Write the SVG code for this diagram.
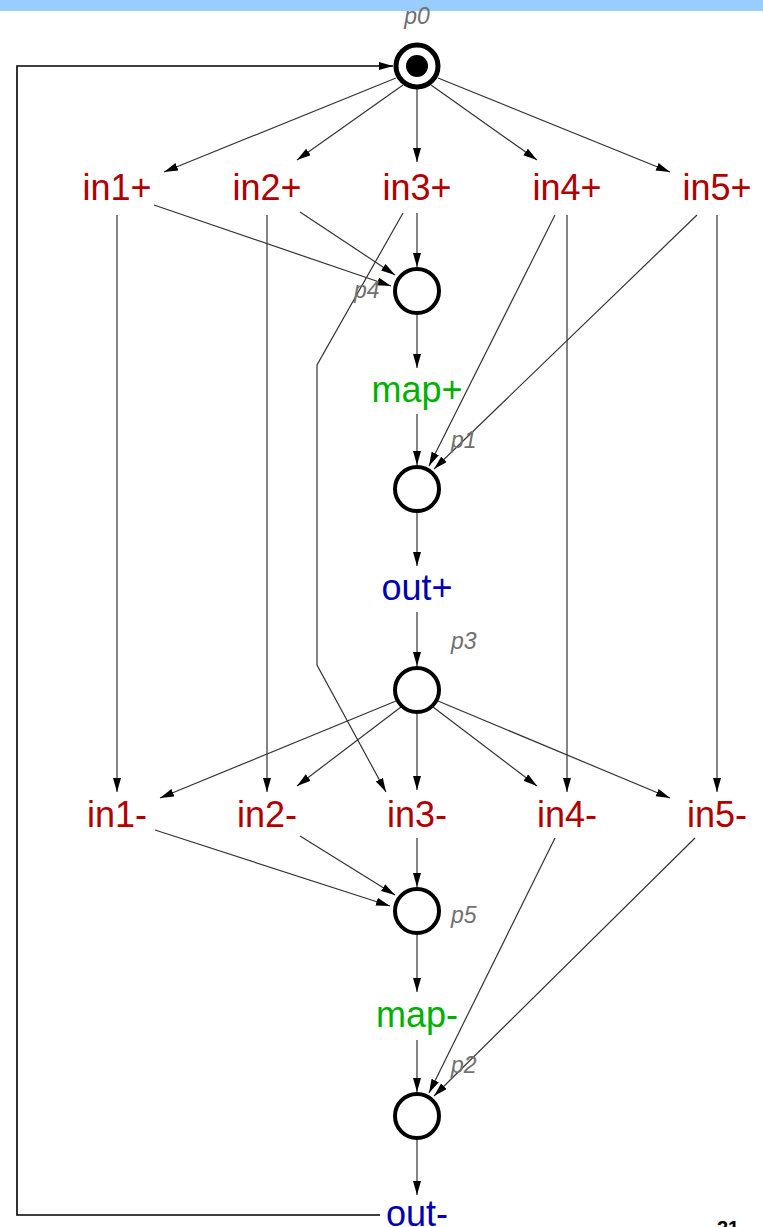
<svg xmlns="http://www.w3.org/2000/svg" width="763" height="1227" viewBox="0 0 763 1227">
<style>
.pl{fill:#fff;stroke:#000;stroke-width:4}
.arc{fill:none;stroke:#333;stroke-width:1.2}
.lbl{font-family:"Liberation Sans",Arial,sans-serif;font-size:23px;font-style:italic;fill:#707070}
.tr{font-family:"Liberation Sans",Arial,sans-serif;font-size:36px;text-anchor:middle}
.in{fill:#B00000}
.map{fill:#00B000}
.out{fill:#0000B0}
</style>
<defs>
<marker id="ah" markerUnits="userSpaceOnUse" markerWidth="15" markerHeight="9" refX="14" refY="4" orient="auto">
<path d="M0,0 L14,4 L0,8 z" fill="#000"/>
</marker>
</defs>
<rect x="0" y="0" width="763" height="11" fill="#99CCFF"/>
<g id="connectors">
<polyline class="arc" points="380,1215 17,1215 17,66 393,66" style="stroke:#000;stroke-width:1.6" marker-end="url(#ah)"/>
<line class="arc" x1="396" y1="78" x2="164" y2="172" marker-end="url(#ah)"/>
<line class="arc" x1="403" y1="85" x2="297" y2="160" marker-end="url(#ah)"/>
<line class="arc" x1="417" y1="89" x2="417" y2="162" marker-end="url(#ah)"/>
<line class="arc" x1="431" y1="85" x2="537" y2="160" marker-end="url(#ah)"/>
<line class="arc" x1="438" y1="78" x2="670" y2="172" marker-end="url(#ah)"/>
<line class="arc" x1="154" y1="205" x2="391" y2="286" marker-end="url(#ah)"/>
<line class="arc" x1="300" y1="212" x2="395" y2="275" marker-end="url(#ah)"/>
<line class="arc" x1="417" y1="213" x2="417" y2="267" marker-end="url(#ah)"/>
<polyline class="arc" points="403,213 317,365 317,665 386,792" marker-end="url(#ah)"/>
<line class="arc" x1="555" y1="215" x2="429" y2="466" marker-end="url(#ah)"/>
<line class="arc" x1="697" y1="215" x2="434" y2="469" marker-end="url(#ah)"/>
<line class="arc" x1="117" y1="215" x2="117" y2="792" marker-end="url(#ah)"/>
<line class="arc" x1="267" y1="215" x2="267" y2="792" marker-end="url(#ah)"/>
<line class="arc" x1="567" y1="215" x2="567" y2="792" marker-end="url(#ah)"/>
<line class="arc" x1="717" y1="215" x2="717" y2="792" marker-end="url(#ah)"/>
<line class="arc" x1="417" y1="315" x2="417" y2="368" marker-end="url(#ah)"/>
<line class="arc" x1="417" y1="414" x2="417" y2="465" marker-end="url(#ah)"/>
<line class="arc" x1="417" y1="513" x2="417" y2="566" marker-end="url(#ah)"/>
<line class="arc" x1="417" y1="612" x2="417" y2="666" marker-end="url(#ah)"/>
<line class="arc" x1="396" y1="701" x2="160" y2="798" marker-end="url(#ah)"/>
<line class="arc" x1="401" y1="707" x2="297" y2="786" marker-end="url(#ah)"/>
<line class="arc" x1="417" y1="714" x2="417" y2="790" marker-end="url(#ah)"/>
<line class="arc" x1="433" y1="707" x2="537" y2="786" marker-end="url(#ah)"/>
<line class="arc" x1="438" y1="701" x2="670" y2="798" marker-end="url(#ah)"/>
<line class="arc" x1="155" y1="830" x2="390" y2="906" marker-end="url(#ah)"/>
<line class="arc" x1="300" y1="836" x2="395" y2="895" marker-end="url(#ah)"/>
<line class="arc" x1="417" y1="838" x2="417" y2="887" marker-end="url(#ah)"/>
<line class="arc" x1="417" y1="935" x2="417" y2="992" marker-end="url(#ah)"/>
<line class="arc" x1="417" y1="1040" x2="417" y2="1092" marker-end="url(#ah)"/>
<line class="arc" x1="555" y1="838" x2="429" y2="1093" marker-end="url(#ah)"/>
<line class="arc" x1="695" y1="838" x2="434" y2="1096" marker-end="url(#ah)"/>
<line class="arc" x1="417" y1="1140" x2="417" y2="1195" marker-end="url(#ah)"/>
</g>
<g id="p0"><circle class="pl" cx="417" cy="66" r="21" style="stroke-width:5"/><circle cx="417" cy="66" r="11" fill="#000"/><text class="lbl" x="417" y="24" text-anchor="middle">p0</text></g>
<g id="p4"><circle class="pl" cx="417" cy="291" r="22"/><text class="lbl" x="354" y="298">p4</text></g>
<g id="p1"><circle class="pl" cx="417" cy="489" r="22"/><text class="lbl" x="451" y="448">p1</text></g>
<g id="p3"><circle class="pl" cx="417" cy="690" r="22"/><text class="lbl" x="451" y="649">p3</text></g>
<g id="p5"><circle class="pl" cx="417" cy="911" r="22"/><text class="lbl" x="451" y="923">p5</text></g>
<g id="p2"><circle class="pl" cx="417" cy="1116" r="22"/><text class="lbl" x="451" y="1073">p2</text></g>
<g id="in1p"><text class="tr in" x="117" y="200">in1+</text></g>
<g id="in2p"><text class="tr in" x="267" y="200">in2+</text></g>
<g id="in3p"><text class="tr in" x="417" y="200">in3+</text></g>
<g id="in4p"><text class="tr in" x="567" y="200">in4+</text></g>
<g id="in5p"><text class="tr in" x="717" y="200">in5+</text></g>
<g id="mapp"><text class="tr map" x="417" y="402">map+</text></g>
<g id="outp"><text class="tr out" x="417" y="600">out+</text></g>
<g id="in1m"><text class="tr in" x="117" y="827">in1-</text></g>
<g id="in2m"><text class="tr in" x="267" y="827">in2-</text></g>
<g id="in3m"><text class="tr in" x="417" y="827">in3-</text></g>
<g id="in4m"><text class="tr in" x="567" y="827">in4-</text></g>
<g id="in5m"><text class="tr in" x="717" y="827">in5-</text></g>
<g id="mapm"><text class="tr map" x="417" y="1027">map-</text></g>
<g id="outm"><text class="tr out" x="417" y="1226">out-</text></g>
<text x="728" y="1235" text-anchor="middle" font-family="Liberation Sans,Arial,sans-serif" font-size="20" font-weight="bold" fill="#000">21</text>
</svg>
